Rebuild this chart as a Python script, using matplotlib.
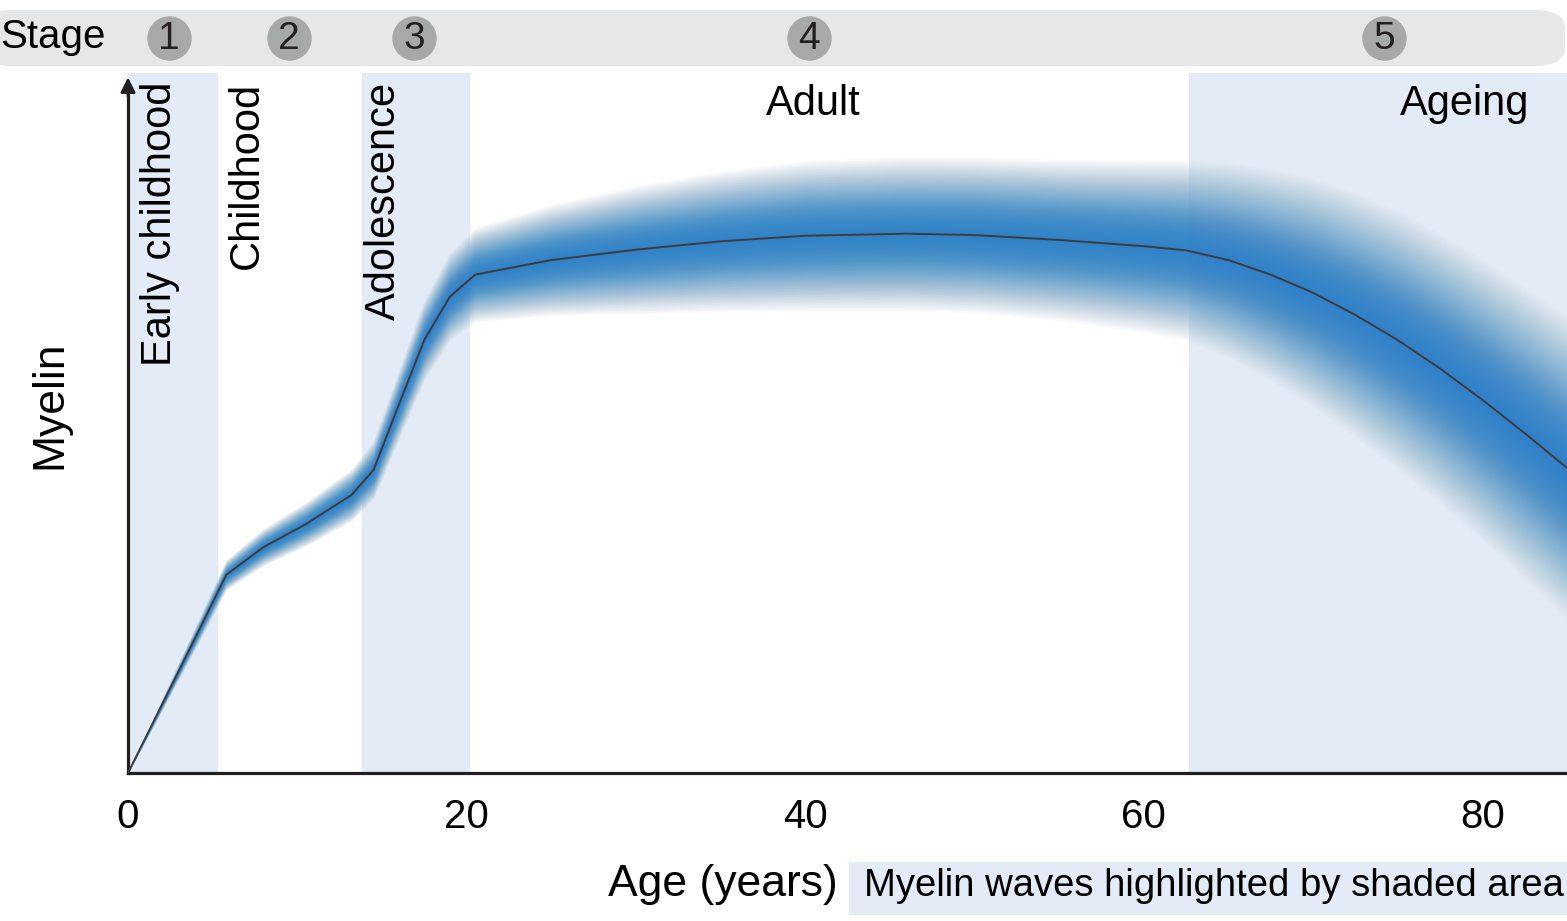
import numpy as np
import matplotlib.pyplot as plt
from matplotlib.patches import FancyBboxPatch
import matplotlib.colors as mcolors

plt.rcParams['font.family'] = ['Liberation Sans', 'DejaVu Sans']

# myelin trajectory (age in years, myelin in arbitrary units 0-100)
age = [0, 2, 4, 5.8, 8, 10.5, 13.2, 14.5, 16, 17.5, 19, 20.5, 25, 30, 35, 40, 46, 50, 55, 60, 62.5, 65, 67.5, 70, 72.5, 75, 77.5, 80, 82.5, 85]
myelin = [0, 9.8, 19.6, 28.5, 32.5, 35.8, 40.0, 43.6, 53.0, 62.3, 68.5, 71.7, 73.8, 75.3, 76.5, 77.3, 77.6, 77.4, 76.7, 75.8, 75.2, 73.8, 71.7, 69.1, 65.9, 62.3, 58.2, 53.7, 48.9, 43.9]
spread = [0, 0.8, 1.6, 2.2, 2.7, 3.2, 3.8, 4.2, 5.0, 5.8, 6.4, 6.8, 8.0, 9.2, 10.1, 10.8, 11.1, 11.2, 11.6, 12.4, 13.0, 14.0, 15.2, 16.5, 17.6, 18.6, 19.4, 20.2, 21.0, 21.8]

# shaded myelin waves (start, end)
waves = [(0, 5.3), (13.8, 20.2), (62.7, 85)]

stage_labels = ['1', '2', '3', '4', '5']
stage_pos = [2.4, 9.5, 16.9, 40.2, 74.2]

xticks = [0, 20, 40, 60, 80]

age = np.array(age)
myelin = np.array(myelin)
spread = np.array(spread)

fig = plt.figure(figsize=(15.67, 9.21), dpi=100)

# stage bar (drawn on the figure, behind the axes)
bar = FancyBboxPatch((-20 / 1567, (921 - 66) / 921), 1585 / 1567, 56 / 921,
                     boxstyle='round,pad=0,rounding_size=0.02', transform=fig.transFigure,
                     facecolor='#e6e7e8', edgecolor='none', mutation_aspect=921 / 1567 * 1.7,
                     zorder=0)
fig.patches.append(bar)
box = FancyBboxPatch((849 / 1567, 6 / 921), (1567 - 849) / 1567, 53 / 921,
                     boxstyle='square,pad=0', transform=fig.transFigure,
                     facecolor='#e3ebf6', edgecolor='none', zorder=0)
fig.patches.append(box)

ax = fig.add_axes([128 / 1567, 148 / 921, 1 - 128 / 1567, 695 / 921])
ax.set_zorder(3)
ax.patch.set_alpha(0)
ax.set_xlim(0, 85)
ax.set_ylim(0, 100)

shade = '#e3ebf6'
for a, b in waves:
    ax.axvspan(a, b, ymin=0, ymax=1.007, color=shade, lw=0, zorder=0, clip_on=False)

# fuzzy band
outer = np.array(mcolors.to_rgb('#b4c7d3'))
inner = np.array(mcolors.to_rgb('#2a80c8'))
levels = np.linspace(1.0, 0.03, 45)
for k in levels:
    t = min(1.0, (1 - k) / 0.55)
    col = outer * (1 - t) + inner * t
    ax.fill_between(age, myelin - k * spread, myelin + k * spread,
                    color=col, alpha=0.08, lw=0, zorder=2)
ax.plot(age, myelin, color='#3c3c3c', lw=1.4, zorder=3)

# axes styling
for s in ['top', 'right']:
    ax.spines[s].set_visible(False)
ax.spines['left'].set_linewidth(2.3)
ax.spines['bottom'].set_linewidth(2.3)
ax.spines['left'].set_color('#231f20')
ax.spines['bottom'].set_color('#231f20')
ax.spines['left'].set_bounds(0, 98)
ax.annotate('', xy=(0, 100.5), xytext=(0, 97),
            arrowprops=dict(arrowstyle='-|>', color='#231f20', lw=2, mutation_scale=22),
            annotation_clip=False)
ax.set_xticks(xticks)
ax.set_xticklabels([str(v) for v in xticks], fontsize=29)
ax.tick_params(axis='x', length=0, pad=18)
ax.set_yticks([])
fig.text(50 / 1567, (921 - 405) / 921, 'Myelin', rotation=90, ha='center', va='center',
         fontsize=32)

# phase labels
ax.text(1.9, 99.5, 'Early childhood', rotation=90, ha='center', va='top', fontsize=30)
ax.text(7.0, 99.5, 'Childhood', rotation=90, ha='center', va='top', fontsize=30)
ax.text(15.1, 99.5, 'Adolescence', rotation=90, ha='center', va='top', fontsize=30)
ax.text(40.5, 96.3, 'Adult', ha='center', va='center', fontsize=30)
ax.text(82.8, 96.3, 'Ageing', ha='right', va='center', fontsize=30)

fig.text(0, (921 - 37) / 921, 'Stage', ha='left', va='center', fontsize=29)
for lab, xp in zip(stage_labels, stage_pos):
    ax.plot(xp, 105.8, 'o', ms=32, color='#a7a8aa', mec='none', clip_on=False, zorder=5)
    ax.text(xp, 105.6, lab, ha='center', va='center', fontsize=28, color='#231f20', zorder=6,
            clip_on=False)

# bottom labels
fig.text(723 / 1567, (921 - 884) / 921, 'Age (years)', ha='center', va='center', fontsize=32)
fig.text(1214 / 1567, (921 - 886) / 921, 'Myelin waves highlighted by shaded area',
         ha='center', va='center', fontsize=27.5)

fig.savefig('out.png', dpi=100)
